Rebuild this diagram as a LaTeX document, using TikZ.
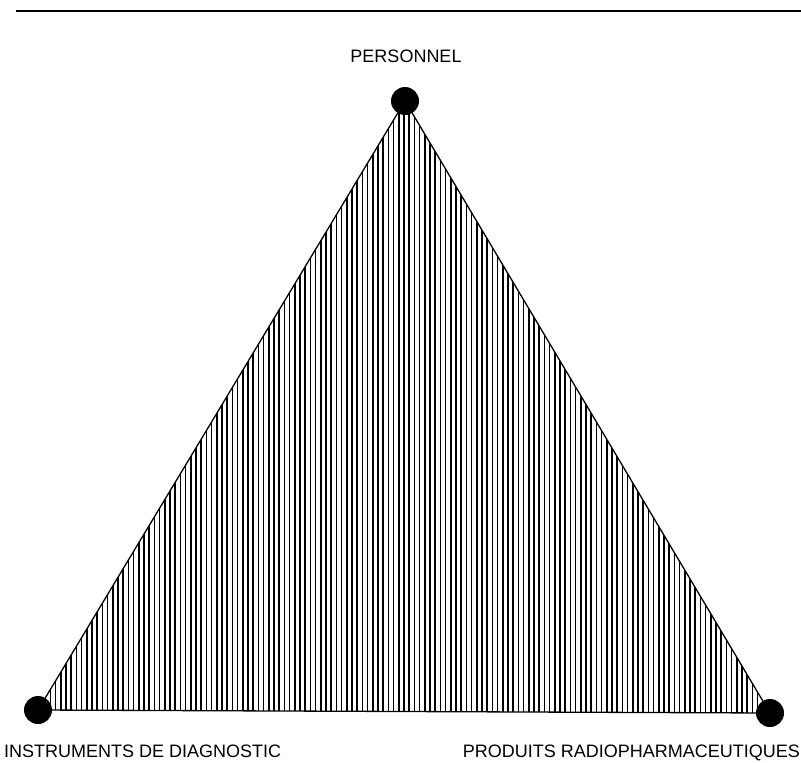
\documentclass[tikz,border=0pt]{standalone}
\usepackage{fontspec}
\setmainfont{Liberation Sans}
\begin{document}
\begin{tikzpicture}[x=1pt,y=-1pt,
  vertexdot/.style={circle,fill=black,inner sep=0pt,minimum size=28pt},
  lbl/.style={inner sep=0pt,font=\fontsize{18}{20}\selectfont,anchor=base}]
\useasboundingbox (0,0) rectangle (801,763);
\draw[line width=2pt] (16,11) -- (801,11);
\coordinate (A) at (405,101);
\coordinate (B) at (38,710);
\coordinate (C) at (770,713);
\begin{scope}
  \clip (A) -- (B) -- (C) -- cycle;
  \foreach \x in {40,45.2,...,770} \draw[line width=1.6pt] (\x,90) -- (\x,720);
\end{scope}
\draw[line width=1.3pt] (A) -- (B) -- (C) -- cycle;
\node[vertexdot] (pa) at (A) {};
\node[vertexdot] (pb) at (B) {};
\node[vertexdot] (pc) at (C) {};
\node[lbl] (ta) at (406,62) {PERSONNEL};
\node[lbl,anchor=base west] (tb) at (4,757) {INSTRUMENTS DE DIAGNOSTIC};
\node[lbl,anchor=base east] (tc) at (800,757) {PRODUITS RADIOPHARMACEUTIQUES};
\end{tikzpicture}
\end{document}
